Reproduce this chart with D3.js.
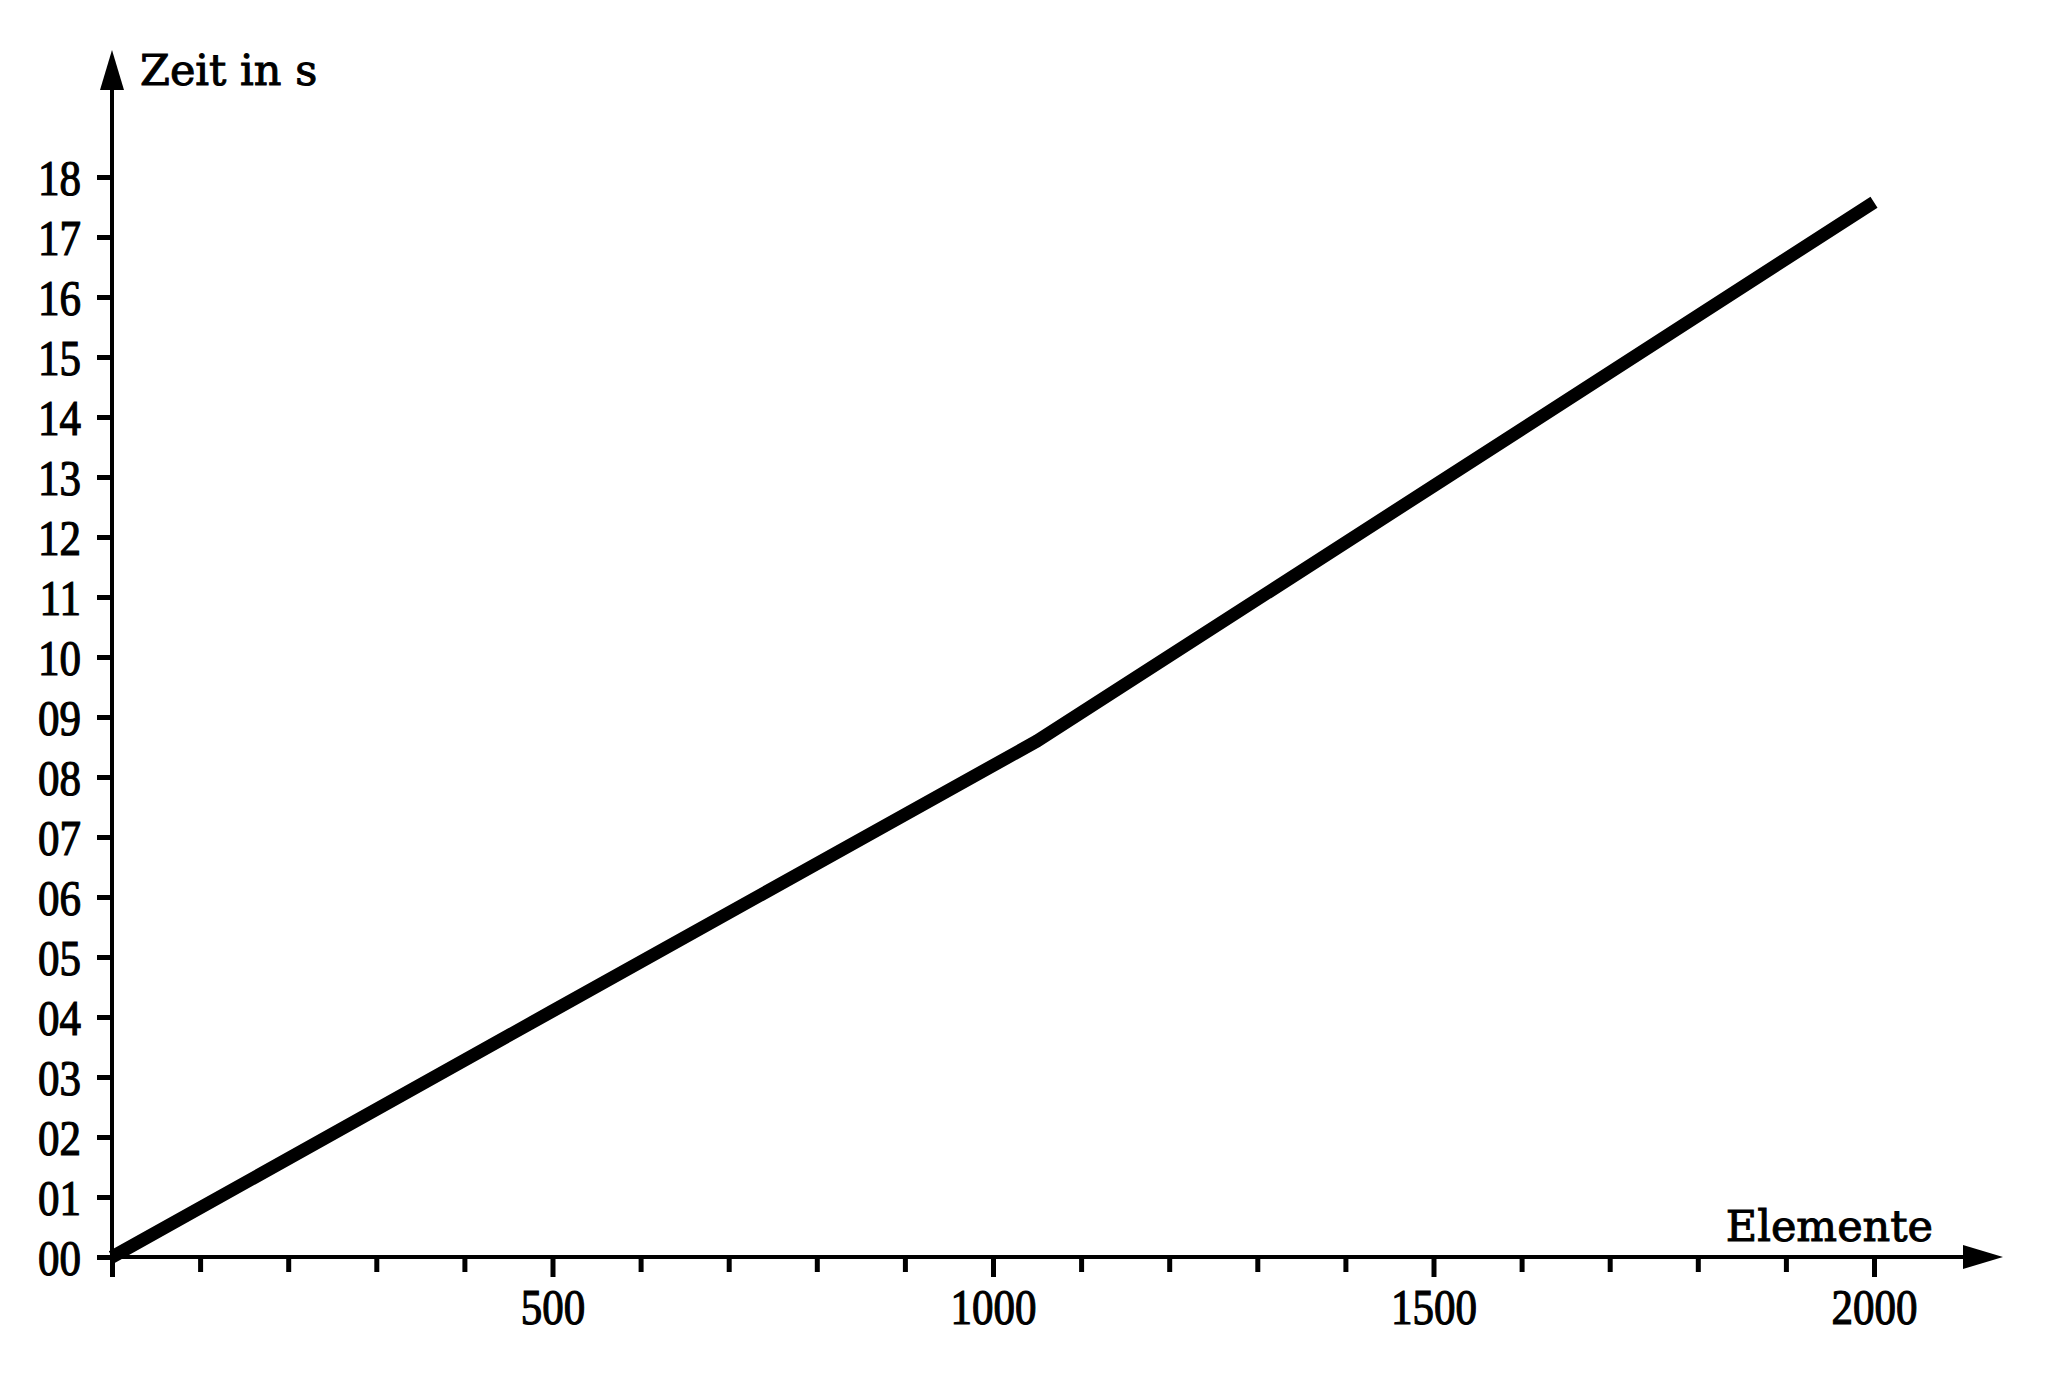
<!DOCTYPE html>
<html>
<head>
<meta charset="utf-8">
<script src="https://d3js.org/d3.v7.min.js"></script>
<style>
  body { margin: 0; background: #fff; }
  svg { display: block; }
</style>
</head>
<body>
<div id="chart"></div>
<script>
// values
let elemente = [0, 500, 1050, 1500, 2000];
let zeit = [0, 4.1, 8.6, 12.85, 17.58];
let yTicks = d3.range(0, 19);          // 00 .. 18
let xTicks = d3.range(0, 2001, 100);   // tick every 100
let xLabels = [500, 1000, 1500, 2000];

let width = 2052, height = 1374;
let x0 = 112, y0 = 1257;
let squeeze = 0.86; // digits in the original are a bit narrow

let svg = d3.select("#chart")
    .append("svg")
        .attr("width", width)
        .attr("height", height);

let x = d3.scaleLinear().domain([0, 2000]).range([x0, 1874]);
let y = d3.scaleLinear().domain([0, 18]).range([y0, 177]);

// y axis
let yAxis = svg.append("g")
    .attr("transform", `translate(${x0},0)`)
    .call(d3.axisLeft(y)
        .tickValues(yTicks)
        .tickFormat(d3.format("02d"))
        .tickSize(15)
        .tickPadding(16));
yAxis.select(".domain").remove();
yAxis.selectAll(".tick line").attr("stroke", "#000").attr("stroke-width", 5);
yAxis.selectAll(".tick text")
    .attr("fill", "#000")
    .attr("stroke", "#000")
    .attr("stroke-width", 1.2)
    .attr("dy", "0.34em")
    .attr("x", -31 / squeeze)
    .attr("transform", `scale(${squeeze},1)`)
    .style("font-family", "'Liberation Serif', serif")
    .style("font-size", "50px");

// x axis
let xAxis = svg.append("g")
    .attr("transform", `translate(0,${y0})`)
    .call(d3.axisBottom(x)
        .tickValues(xTicks)
        .tickFormat(d => xLabels.includes(d) ? d : "")
        .tickSize(15)
        .tickPadding(10));
xAxis.select(".domain").remove();
xAxis.selectAll(".tick line")
    .attr("stroke", "#000")
    .attr("stroke-width", 5)
    .attr("y2", d => d % 500 == 0 ? 20 : 15);
xAxis.selectAll(".tick text")
    .attr("fill", "#000")
    .attr("stroke", "#000")
    .attr("stroke-width", 1.2)
    .attr("dy", "0.85em")
    .attr("transform", `scale(${squeeze},1)`)
    .style("font-family", "'Liberation Serif', serif")
    .style("font-size", "50px");

// axis lines with arrows
svg.append("line")
    .attr("x1", x0).attr("y1", y0)
    .attr("x2", x0).attr("y2", 80)
    .attr("stroke", "#000").attr("stroke-width", 4);
svg.append("path")
    .attr("d", `M${x0},50 L${x0 - 12},90 L${x0 + 12},90 Z`)
    .attr("fill", "#000");

svg.append("line")
    .attr("x1", x0 - 2).attr("y1", y0)
    .attr("x2", 1975).attr("y2", y0)
    .attr("stroke", "#000").attr("stroke-width", 4);
svg.append("path")
    .attr("d", `M2003,${y0} L1963,${y0 - 12} L1963,${y0 + 12} Z`)
    .attr("fill", "#000");

// axis titles
svg.append("text")
    .attr("x", 140).attr("y", 85)
    .attr("stroke", "#000").attr("stroke-width", 1)
    .style("font-family", "'DejaVu Serif', serif")
    .style("font-size", "43px")
    .text("Zeit in s");

svg.append("text")
    .attr("x", 1933).attr("y", 1241)
    .attr("stroke", "#000").attr("stroke-width", 1)
    .style("text-anchor", "end")
    .style("font-family", "'DejaVu Serif', serif")
    .style("font-size", "43px")
    .text("Elemente");

// the curve
let line = d3.line()
    .x((d, i) => x(elemente[i]))
    .y(d => y(d));

svg.append("path")
    .datum(zeit)
    .attr("d", line)
    .attr("fill", "none")
    .attr("stroke", "#000")
    .attr("stroke-width", 13)
    .attr("stroke-linejoin", "round");
</script>
</body>
</html>
